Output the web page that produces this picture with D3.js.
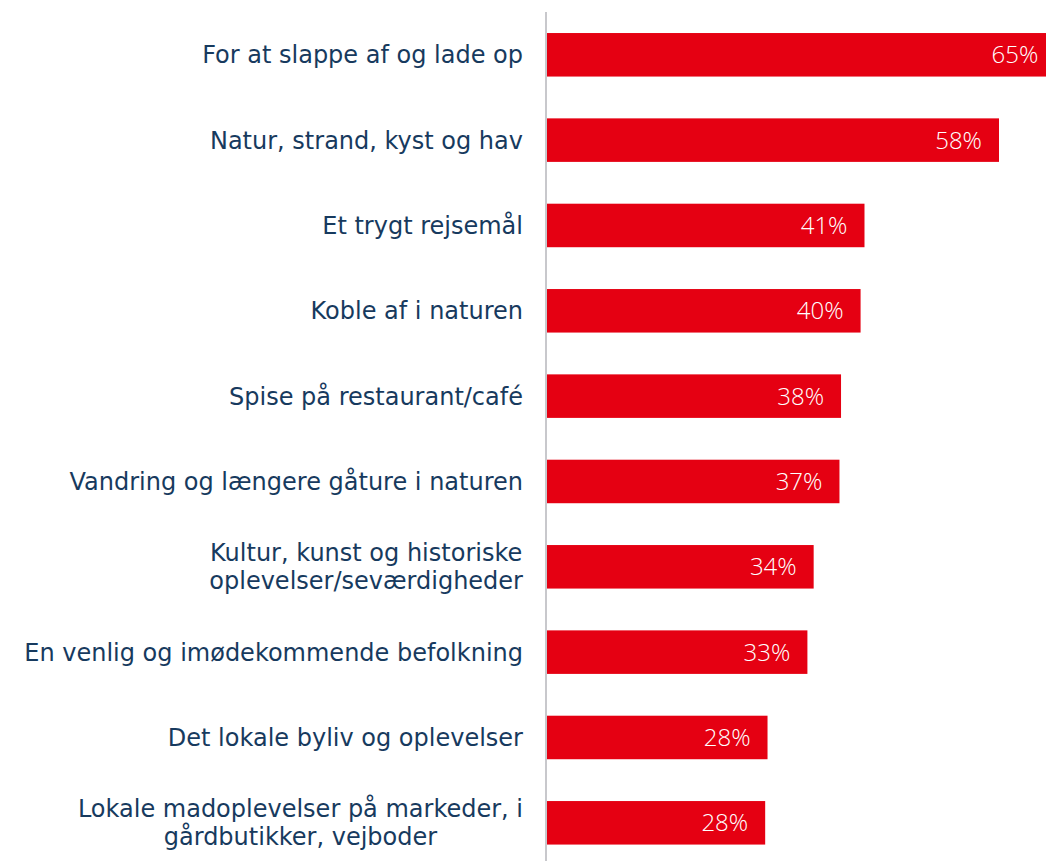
<!DOCTYPE html>
<html>
<head>
<meta charset="utf-8">
<script src="https://cdn.jsdelivr.net/npm/d3@7"></script>
<style>
  body { margin: 0; background: #fff; }
  svg { display: block; }
</style>
</head>
<body>
<svg width="1046" height="861"></svg>
<script>
// categories (top to bottom), lines split with "|"
var categories = [
    "For at slappe af og lade op",
    "Natur, strand, kyst og hav",
    "Et trygt rejsemål",
    "Koble af i naturen",
    "Spise på restaurant/café",
    "Vandring og længere gåture i naturen",
    "Kultur, kunst og historiske|oplevelser/seværdigheder",
    "En venlig og imødekommende befolkning",
    "Det lokale byliv og oplevelser",
    "Lokale madoplevelser på markeder, i|gårdbutikker, vejboder"
];
// share of respondents (fraction)
var values = [0.650, 0.578, 0.406, 0.401, 0.376, 0.374, 0.341, 0.333, 0.282, 0.279];

var svg = d3.select('svg');
var width = 1046, height = 861;
var axisX = 546;

var xScale = d3.scaleLinear()
    .domain([0, 1])
    .range([axisX + 1, axisX + 1 + 782]);

var yScale = d3.scaleBand()
    .domain(categories)
    .range([11.7, 865.9])
    .paddingInner(0.49)
    .paddingOuter(0.25);

var fmt = d3.format('.0%');

svg.append('defs').append('clipPath')
    .attr('id', 'clip')
    .append('rect')
    .attr('x', 0).attr('y', 0)
    .attr('width', width).attr('height', height);

var bars = svg.append('g').attr('clip-path', 'url(#clip)');

bars.selectAll('rect')
    .data(categories)
    .enter()
    .append('rect')
    .attr('x', xScale(0))
    .attr('y', function(d) { return yScale(d); })
    .attr('width', function(d, i) { return xScale(values[i]) - xScale(0); })
    .attr('height', yScale.bandwidth())
    .attr('fill', '#e50012');

bars.selectAll('text.value')
    .data(categories)
    .enter()
    .append('text')
    .attr('class', 'value')
    .attr('x', function(d, i) { return xScale(values[i]) - 17; })
    .attr('y', function(d) { return yScale(d) + yScale.bandwidth() / 2 + 8.5; })
    .attr('text-anchor', 'end')
    .attr('fill', '#fff')
    .attr('font-family', 'Open Sans')
    .attr('font-weight', 300)
    .attr('font-size', '24px')
    .text(function(d, i) { return fmt(values[i]); });

// vertical axis line
svg.append('line')
    .attr('x1', axisX).attr('x2', axisX)
    .attr('y1', 12).attr('y2', height)
    .attr('stroke', '#c8c8cc')
    .attr('stroke-width', 2);

// category labels, multi-line ones centred within their block
var labelRight = 523;
var lineH = 28;
var labels = svg.append('g')
    .attr('font-family', 'DejaVu Sans')
    .attr('font-size', '24px')
    .attr('fill', '#173a5e');

categories.forEach(function(c) {
    var lines = c.split('|');
    var cy = yScale(c) + yScale.bandwidth() / 2;
    var t = labels.append('text');
    lines.forEach(function(l, j) {
        t.append('tspan')
            .attr('y', cy + 8.5 + (j - (lines.length - 1) / 2) * lineH)
            .text(l);
    });
    var w = d3.max(t.selectAll('tspan').nodes(), function(n) { return n.getComputedTextLength(); });
    if (lines.length > 1) {
        t.attr('text-anchor', 'middle');
        t.selectAll('tspan').attr('x', labelRight - w / 2);
    } else {
        t.attr('text-anchor', 'end');
        t.selectAll('tspan').attr('x', labelRight);
    }
});
</script>
</body>
</html>
